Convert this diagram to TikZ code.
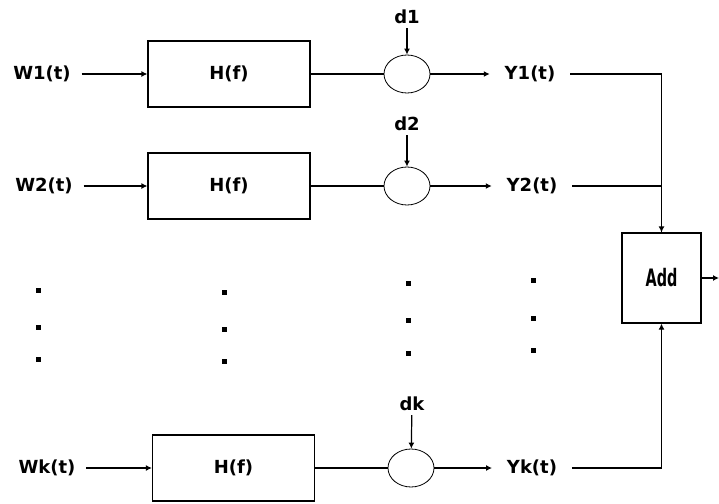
\documentclass[tikz,border=0pt]{standalone}
\usepackage{fontspec}
\setmainfont{DejaVu Sans}
\usepackage{tikz}
\usetikzlibrary{positioning}
\usetikzlibrary{shapes.geometric}
\usetikzlibrary{arrows.meta}

\tikzset{
  lbl/.style={font=\fontsize{13.5}{15}\selectfont\bfseries, inner xsep=8pt, inner ysep=3pt},
  filt/.style={draw, line width=0.9pt, minimum width=121.5pt, minimum height=49.5pt,
    font=\fontsize{13.5}{15}\selectfont\bfseries},
  mix/.style={draw, ellipse, line width=0.6pt, minimum width=34.5pt, minimum height=28.5pt},
  conn/.style={line width=0.9pt},
  arr/.style={conn, -{Latex[length=4.5pt,width=4.5pt]}}
}

\begin{document}
\begin{tikzpicture}[x=0.75pt,y=-0.75pt]
  \useasboundingbox (0,0) rectangle (719,504);
  \node[lbl] (w1) at (42,74) {W1(t)};
  \node[lbl] (w2) at (44,186) {W2(t)};
  \node[lbl] (wk) at (47,468) {Wk(t)};
  \node[filt] (h1) at (229,74) {H(f)};
  \node[filt] (h2) at (229,186) {H(f)};
  \node[filt] (hk) at (233.5,468) {H(f)};
  \node[mix] (s1) at (407,74) {};
  \node[mix] (s2) at (407,186) {};
  \node[mix] (sk) at (411,468) {};
  \node[lbl] (d1) at (407,17) {d1};
  \node[lbl] (d2) at (407,124) {d2};
  \node[lbl] (dk) at (412,404) {dk};
  \node[lbl, inner xsep=11pt] (y1) at (530,74) {Y1(t)};
  \node[lbl, inner xsep=11pt] (y2) at (532,186) {Y2(t)};
  \node[lbl, inner xsep=11pt] (yk) at (532,468) {Yk(t)};
  \node[draw, line width=0.9pt, minimum width=59.25pt, minimum height=67.5pt,
    font=\fontsize{18}{20}\selectfont\bfseries] (add) at (661.5,278)
    {\scalebox{0.6}[1]{Add}};
  \coordinate (out) at (719,278);

  \draw[arr] (w1) -- (h1);
  \draw[arr] (w2) -- (h2);
  \draw[arr] (wk) -- (hk);
  \draw[conn] (h1) -- (s1);
  \draw[conn] (h2) -- (s2);
  \draw[conn] (hk) -- (sk);
  \draw[arr] (d1) -- (s1);
  \draw[arr] (d2) -- (s2);
  \draw[arr] (dk) -- (sk);
  \draw[arr] (s1) -- (y1);
  \draw[arr] (s2) -- (y2);
  \draw[arr] (sk) -- (yk);
  \draw[arr] (y1) -| (add.north);
  \draw[conn] (y2) -| (add.north);
  \draw[arr] (yk) -| (add.south);
  \draw[arr] (add) -- (out);

  \foreach \x/\ya/\yb/\yc in {38/290/327/359, 224/292/329/361, 408/283/320/353, 533/280/318/350}
    \foreach \y in {\ya,\yb,\yc}
      \fill (\x-2.5,\y-2.5) rectangle (\x+2.5,\y+2.5);
\end{tikzpicture}
\end{document}
